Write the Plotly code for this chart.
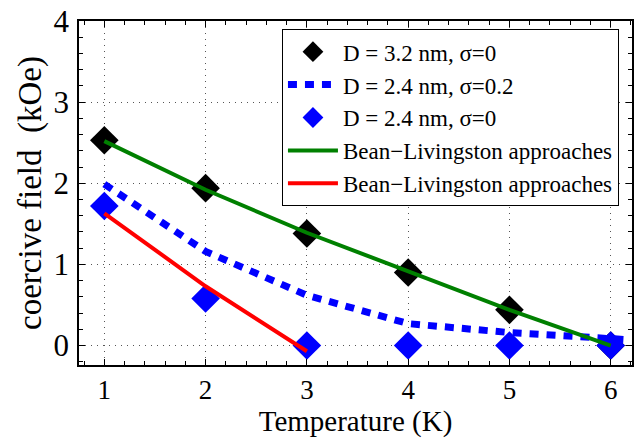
import plotly.graph_objects as go

# Temperature grid (K) and coercive field values (kOe)
temps = [1, 2, 3, 4, 5, 6]
hc_d32_s0 = [2.53, 1.94, 1.38, 0.90, 0.44, 0.0]

temps_s02 = [1, 2, 3, 4, 5, 6, 6.2]
hc_d24_s02 = [1.99, 1.16, 0.62, 0.27, 0.16, 0.10, 0.07]

hc_d24_s0 = [1.72, 0.58, 0.0, 0.0, 0.0, 0.0]

bl_temps_d32 = [1, 2, 3, 4, 5, 6]
bl_d32 = [2.52, 1.92, 1.39, 0.91, 0.44, 0.0]

bl_temps_d24 = [1, 2, 3]
bl_d24 = [1.63, 0.73, -0.07]

x_ticks = [1, 2, 3, 4, 5, 6]
y_ticks = [0, 1, 2, 3, 4]

FONT = "Times New Roman, Liberation Serif, serif"

fig = go.Figure()

fig.add_trace(go.Scatter(
    x=temps, y=hc_d32_s0, mode="markers", name="D = 3.2 nm, σ=0",
    marker=dict(symbol="diamond", size=22, color="black", line=dict(width=0)),
))
fig.add_trace(go.Scatter(
    x=temps_s02, y=hc_d24_s02, mode="lines", name="D = 2.4 nm, σ=0.2",
    line=dict(color="#0000ff", width=7, dash="9px,8px"),
))
fig.add_trace(go.Scatter(
    x=temps, y=hc_d24_s0, mode="markers", name="D = 2.4 nm, σ=0",
    marker=dict(symbol="diamond", size=22, color="#0000ff", line=dict(width=0)),
))
fig.add_trace(go.Scatter(
    x=bl_temps_d32, y=bl_d32, mode="lines", name="Bean\u2212Livingston approaches",
    line=dict(color="#008000", width=4),
))
fig.add_trace(go.Scatter(
    x=bl_temps_d24, y=bl_d24, mode="lines", name="Bean\u2212Livingston approaches",
    line=dict(color="#ff0000", width=4),
))

axis_common = dict(
    showline=True, linecolor="black", linewidth=1.5, mirror="allticks",
    ticks="inside", ticklen=6, tickwidth=1, tickcolor="black",
    showgrid=True, gridcolor="#555555", gridwidth=1, griddash="1px,5px",
    zeroline=False,
    minor=dict(ticks="inside", ticklen=4, tickwidth=1, tickcolor="black",
               dtick=0.2, showgrid=False),
)

fig.update_xaxes(
    range=[0.75, 6.21], tickmode="array", tickvals=x_ticks,
    ticktext=[str(v) for v in x_ticks],
    tickfont=dict(family=FONT, size=27, color="black"),
    title=dict(text="Temperature (K)", font=dict(family=FONT, size=29, color="black"),
               standoff=6),
    ticklabelstandoff=0,
    **axis_common,
)
fig.update_yaxes(
    range=[-0.24, 4], tickmode="array", tickvals=y_ticks,
    ticktext=[str(v) for v in y_ticks],
    tickfont=dict(family=FONT, size=31, color="black"),
    title=dict(text="coercive field\u00a0\u00a0(kOe)",
               font=dict(family=FONT, size=33, color="black"), standoff=2),
    ticklabelstandoff=2,
    **axis_common,
)

fig.update_layout(
    width=638, height=438,
    margin=dict(l=79, r=4, t=21, b=73),
    paper_bgcolor="white", plot_bgcolor="white",
    font=dict(family=FONT, color="black"),
    legend=dict(
        x=0.367, y=0.976, xanchor="left", yanchor="top",
        bgcolor="white", bordercolor="black", borderwidth=1,
        font=dict(family=FONT, size=23, color="black"),
        itemwidth=50, tracegroupgap=0,
    ),
    showlegend=True,
)

fig.write_html("out.html")
